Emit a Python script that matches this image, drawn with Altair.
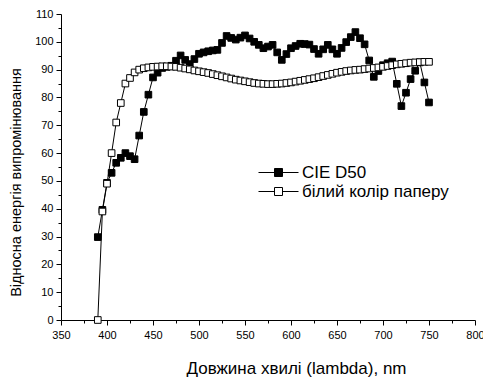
import altair as alt
import pandas as pd

wavelength = list(range(390, 755, 5))

cie_d50 = [29.8, 39.6, 49.3, 52.9, 56.5, 58.3, 60.0, 58.9, 57.8, 66.3,
           74.8, 81.0, 87.2, 88.9, 90.6, 91.0, 91.4, 93.2, 95.1, 93.5,
           92.0, 93.8, 95.7, 96.2, 96.6, 96.9, 97.1, 99.6, 102.1, 101.4,
           100.8, 101.5, 102.3, 101.2, 100.0, 98.9, 97.7, 98.3, 98.9, 96.2,
           93.5, 95.6, 97.7, 98.5, 99.3, 99.2, 99.0, 97.4, 95.7, 97.3,
           98.9, 97.3, 95.7, 97.8, 99.9, 101.7, 103.5, 101.3, 99.1, 93.3,
           87.4, 89.5, 91.6, 92.3, 92.9, 84.9, 76.9, 81.7, 86.6, 89.6,
           92.6, 85.4, 78.2]

white_paper = [0.0, 39.0, 49.0, 60.0, 71.0, 78.0, 85.0, 87.0, 89.0, 90.0,
               90.5, 90.8, 91.0, 91.1, 91.2, 91.2, 91.1, 91.0, 90.7, 90.4,
               90.1, 89.7, 89.4, 89.1, 88.8, 88.4, 88.0, 87.6, 87.2, 86.8,
               86.4, 86.1, 85.8, 85.5, 85.2, 85.0, 84.9, 84.8, 84.8, 84.9,
               85.0, 85.2, 85.4, 85.7, 86.0, 86.3, 86.6, 86.9, 87.3, 87.7,
               88.1, 88.5, 88.9, 89.2, 89.5, 89.7, 89.9, 90.0, 90.2, 90.4,
               90.6, 90.8, 91.0, 91.3, 91.6, 91.9, 92.1, 92.3, 92.5, 92.6,
               92.7, 92.8, 92.8]

series_names = ["CIE D50", "білий колір паперу"]
x_ticks = list(range(350, 801, 25))
y_ticks = list(range(0, 111, 5))

rows = []
for w, v in zip(wavelength, cie_d50):
    rows.append({"wl": w, "val": v, "series": series_names[0], "ord": 0})
for w, v in zip(wavelength, white_paper):
    rows.append({"wl": w, "val": v, "series": series_names[1], "ord": 1})
df = pd.DataFrame(rows)

FONT = "Liberation Sans"

x_enc = alt.X(
    "wl:Q",
    scale=alt.Scale(domain=[350, 800], nice=False, zero=False),
    axis=alt.Axis(
        values=x_ticks,
        labelExpr="datum.value % 50 === 0 ? datum.label : ''",
        title="Довжина хвилі (lambda), nm",
        grid=False,
        tickSize={"condition": {"test": "datum.value % 50 === 0", "value": 5}, "value": 3},
        domainColor="black", tickColor="black", labelColor="black", titleColor="black",
        labelFontSize=11, labelFont=FONT, labelPadding=4,
        titleFont=FONT, titleFontSize=17, titleFontWeight="normal",
        titleX=235, titleY=48, titleBaseline="middle",
        labelFlush=False, labelOverlap=False,
    ),
)
y_enc = alt.Y(
    "val:Q",
    scale=alt.Scale(domain=[0, 110], nice=False),
    axis=alt.Axis(
        values=y_ticks,
        labelExpr="datum.value % 10 === 0 ? datum.label : ''",
        title="Відносна енергія випромінювання",
        grid=False,
        tickSize={"condition": {"test": "datum.value % 10 === 0", "value": 5}, "value": 3},
        domainColor="black", tickColor="black", labelColor="black", titleColor="black",
        labelFontSize=11, labelFont=FONT, labelPadding=3,
        titleFont=FONT, titleFontSize=14.5, titleFontWeight="normal",
        titleX=-45, titleY=168, titleBaseline="middle",
        labelOverlap=False,
    ),
)

lines = alt.Chart(df).mark_line(color="black", strokeWidth=1).encode(
    x=x_enc, y=y_enc, detail="series:N", order="wl:Q"
)

squares = alt.Chart(df).mark_square(size=44, stroke="black", strokeWidth=1, opacity=1).encode(
    x=x_enc,
    y=y_enc,
    fill=alt.Fill(
        "series:N",
        scale=alt.Scale(domain=series_names, range=["black", "white"]),
        legend=alt.Legend(
            title=None,
            orient="none",
            legendX=207,
            legendY=148,
            symbolType="M-2,0H-0.4M0.4,0H2M-0.4,-0.4H0.4V0.4H-0.4Z",
            symbolSize=400,
            symbolStrokeColor="black",
            symbolStrokeWidth=1,
            labelFont=FONT,
            labelFontSize=17,
            labelColor="black",
            labelOffset=13,
            rowPadding=0,
            labelLimit=400,
        ),
    ),
    order="ord:Q",
)

chart = (
    alt.layer(lines, squares)
    .properties(
        width=414,
        height=306,
        autosize=alt.AutoSizeParams(type="none"),
        padding={"left": 61, "top": 14, "right": 8, "bottom": 60},
        background="white",
    )
    .configure_view(stroke=None)
)

chart.save("out.html", embed_options={"renderer": "svg", "actions": False})
